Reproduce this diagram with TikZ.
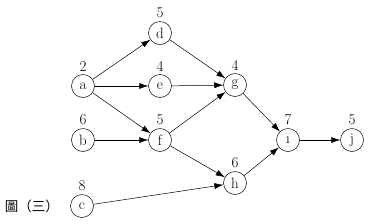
\documentclass[tikz,border=0pt]{standalone}
\usepackage{fontspec}
\newfontfamily\cjk{Noto Sans CJK TC}
\usepackage{tikz}
\usetikzlibrary{positioning,arrows.meta}

\begin{document}
\begin{tikzpicture}[x=1pt, y=-1pt, >={Latex[length=9pt,width=6pt]},
    vtx/.style={draw, circle, minimum size=23pt, inner sep=0pt, font=\fontsize{15}{15}\selectfont},
    every label/.style={font=\fontsize{15}{15}\selectfont, inner sep=0pt, label distance=3pt},
    every path/.style={line width=0.5pt}]
    \useasboundingbox (0,0) rectangle (377,223);

    \node[vtx, label=above:5] (d) at (160,33) {d};
    \node[vtx, label=above:2] (a) at (83,86) {a};
    \node[vtx, label=above:4] (e) at (160,86) {e};
    \node[vtx, label=above:4] (g) at (235,85) {g};
    \node[vtx, label=above:6] (b) at (83,140) {b};
    \node[vtx, label=above:5] (f) at (160,140) {f};
    \node[vtx, label=above:7] (i) at (288,140) {\i};
    \node[vtx, label=above:5] (j) at (352,140) {j};
    \node[vtx, label=above:6] (h) at (235,183) {h};
    \node[vtx, label=above:8] (c) at (82,206) {c};
    \node[font=\cjk\fontsize{13.5}{13.5}\selectfont] (cap) at (32,206) {圖（三）};

    \draw[->] (a) -- (d);
    \draw[->] (a) -- (e);
    \draw[->] (a) -- (f);
    \draw[->] (d) -- (g);
    \draw[->] (e) -- (g);
    \draw[->] (f) -- (g);
    \draw[->] (b) -- (f);
    \draw[->] (f) -- (h);
    \draw[->] (c) -- (h);
    \draw[->] (g) -- (i);
    \draw[->] (h) -- (i);
    \draw[->] (i) -- (j);
\end{tikzpicture}
\end{document}
